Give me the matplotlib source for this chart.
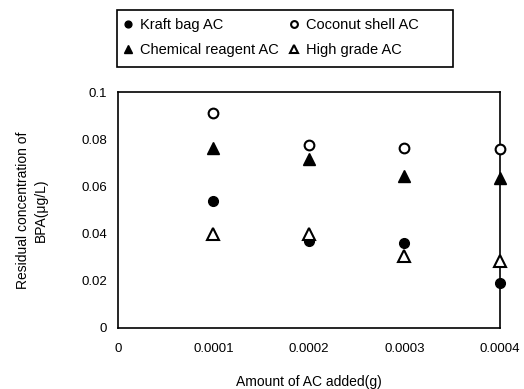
import matplotlib
matplotlib.use("Agg")
import matplotlib.pyplot as plt
from matplotlib.patches import Rectangle

plt.rcParams['font.family'] = ['Liberation Sans', 'DejaVu Sans']

amount = [0.0001, 0.0002, 0.0003, 0.0004]
kraft = [0.054, 0.037, 0.036, 0.019]
coconut = [0.091, 0.0775, 0.0765, 0.076]
chemical = [0.0765, 0.0715, 0.0645, 0.0635]
high_grade = [0.040, 0.040, 0.0305, 0.0285]
xticks = [0, 0.0001, 0.0002, 0.0003, 0.0004]
xticklabels = ['0', '0.0001', '0.0002', '0.0003', '0.0004']
yticks = [0, 0.02, 0.04, 0.06, 0.08, 0.1]
yticklabels = ['0', '0.02', '0.04', '0.06', '0.08', '0.1']

W, H = 524, 389
fig = plt.figure(figsize=(W / 100, H / 100), dpi=100)
ax = fig.add_axes([0.225, 0.157, 0.729, 0.606])

ms = 7
h_kraft, = ax.plot(amount, kraft, 'o', color='black', ms=ms, mec='black', label='Kraft bag AC', clip_on=False, zorder=3)
h_coco, = ax.plot(amount, coconut, 'o', color='black', mfc='white', mec='black', mew=1.5, ms=ms, label='Coconut shell AC', clip_on=False, zorder=3)
h_chem, = ax.plot(amount, chemical, '^', color='black', ms=ms + 1, label='Chemical reagent AC', clip_on=False, zorder=3)
h_high, = ax.plot(amount, high_grade, '^', color='black', mfc='white', mec='black', mew=1.5, ms=ms + 1, label='High grade AC', clip_on=False, zorder=3)

ax.set_xlim(0, 0.0004)
ax.set_ylim(0, 0.1)
ax.set_xticks(xticks)
ax.set_xticklabels(xticklabels)
ax.set_yticks(yticks)
ax.set_yticklabels(yticklabels)
ax.tick_params(axis='both', length=0, labelsize=9.5)
ax.tick_params(axis='x', pad=11)
ax.tick_params(axis='y', pad=8)
for s in ax.spines.values():
    s.set_linewidth(1.2)
    s.set_color('black')

ax.set_xlabel('Amount of AC added(g)', fontsize=10, labelpad=14)
ax.set_ylabel('Residual concentration of\nBPA(\u03bcg/L)', fontsize=10, labelpad=24, linespacing=1.3)

leg = fig.legend([h_kraft, h_chem, h_coco, h_high],
                 ['Kraft bag AC', 'Chemical reagent AC', 'Coconut shell AC', 'High grade AC'],
                 loc='upper left', bbox_to_anchor=(122 / W, 1 - 18 / H), ncol=2,
                 fontsize=10.5, frameon=False,
                 handlelength=0.8, handletextpad=0.4, columnspacing=0.7,
                 borderpad=0, borderaxespad=0, labelspacing=0.75, markerscale=0.7)
fig.add_artist(Rectangle((117 / W, 1 - 67 / H), 336 / W, 57 / H, transform=fig.transFigure,
                         fill=False, edgecolor='black', linewidth=1.2))

fig.savefig('out.png', dpi=100)
